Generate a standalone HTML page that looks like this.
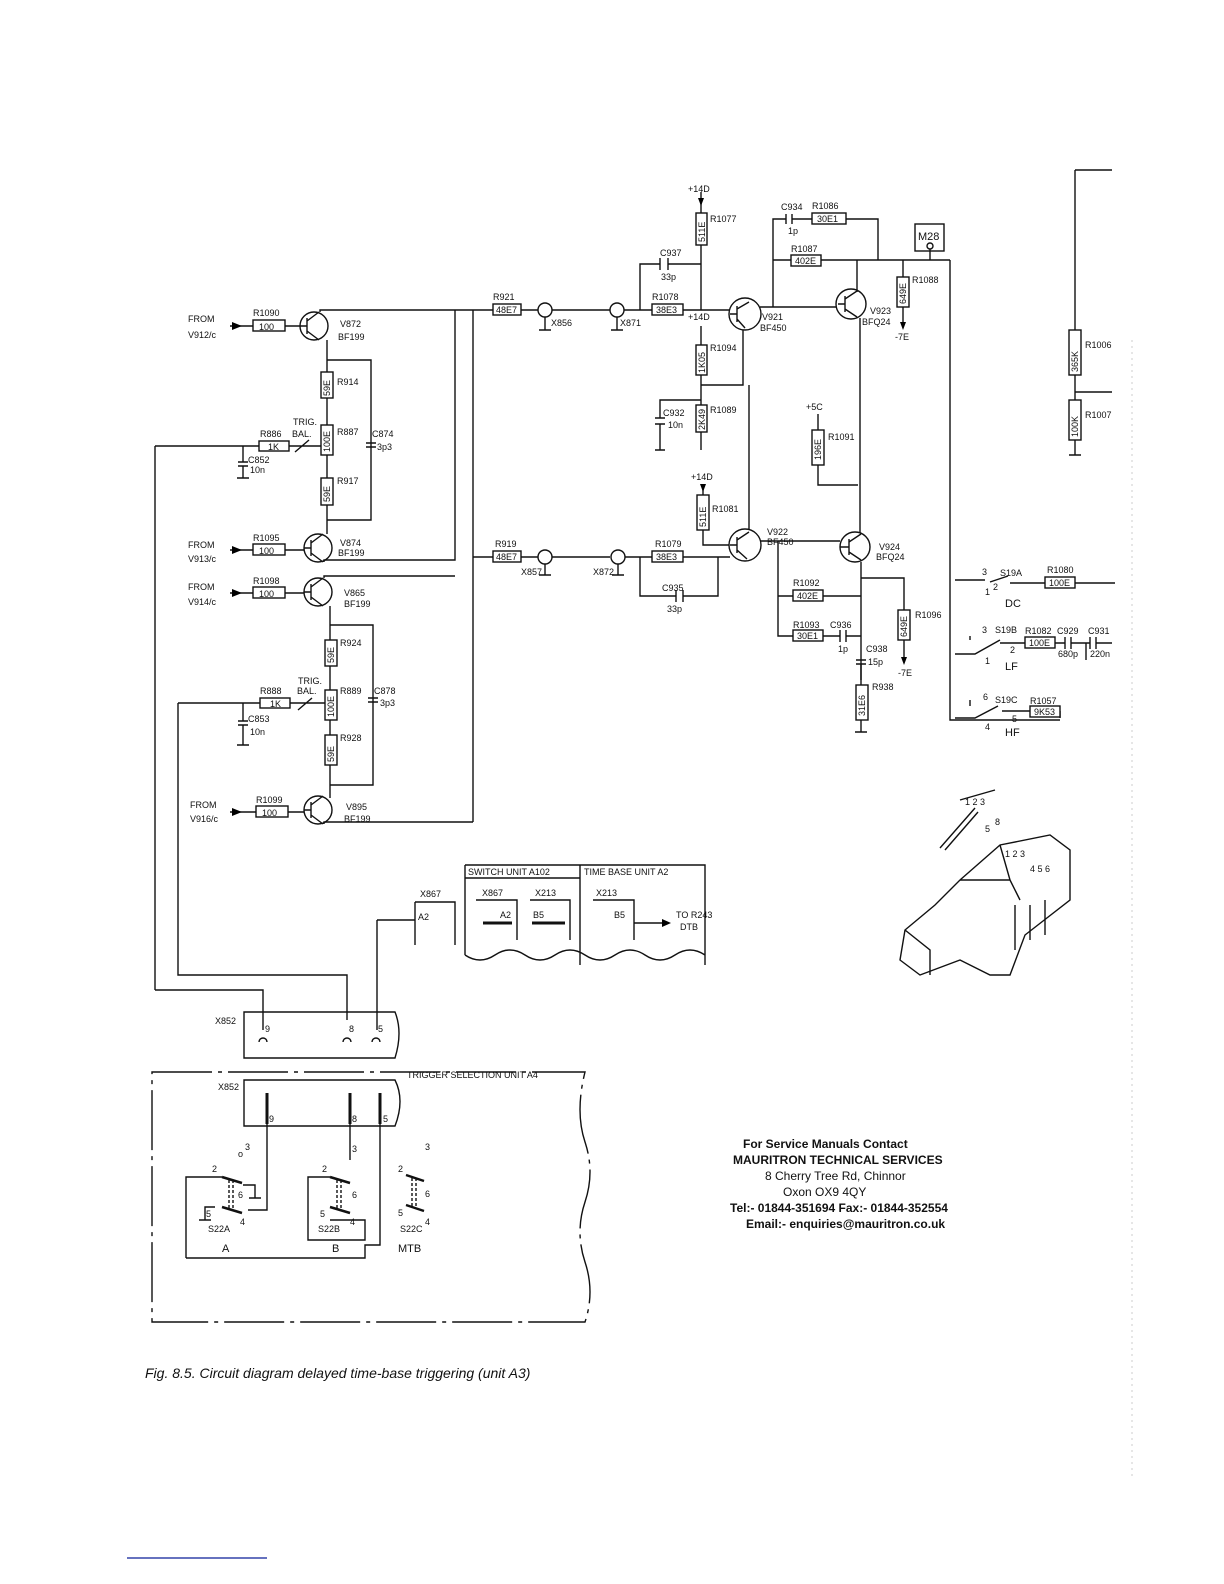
<!DOCTYPE html>
<html><head><meta charset="utf-8"><style>
html,body{margin:0;padding:0;background:#fff}
svg{display:block}
text{font-family:"Liberation Sans",sans-serif;font-size:10px;fill:#111}
.l{stroke:#111;stroke-width:1.4;fill:none}
.b{stroke:#111;stroke-width:1.4;fill:#fff}
.t{font-size:9px}
.s{font-size:11px}
</style></head><body>
<svg width="1224" height="1584" viewBox="0 0 1224 1584" xmlns="http://www.w3.org/2000/svg">
<!-- ===== top row ===== -->
<text x="188" y="322" class="t">FROM</text><text x="188" y="338" class="t">V912/c</text>
<path class="l" d="M230 326H253M285 326H298"/><path d="M232 322l10 4-10 4z"/>
<rect class="b" x="253" y="320" width="32" height="11"/><text x="259" y="330" class="t">100</text><text x="253" y="316" class="t">R1090</text>
<circle class="b" cx="314" cy="326" r="14"/><path class="l" d="M307 318v16M307 326h-9M307 321l12-9M307 331l12 9"/>
<text x="340" y="327" class="t">V872</text><text x="338" y="340" class="t">BF199</text>
<path class="l" d="M320 312V310H683M683 310H730M760 307H838M327 340V372M327 398V425M327 455V478M327 505V534M327 360H371V520H327"/>
<rect class="b" x="321" y="372" width="12" height="26"/><text x="337" y="385" class="t">R914</text><text x="330" y="396" class="t" transform="rotate(-90 330 396)">59E</text>
<rect class="b" x="321" y="425" width="12" height="30"/><text x="337" y="435" class="t">R887</text><text x="330" y="452" class="t" transform="rotate(-90 330 452)">100E</text>
<rect class="b" x="321" y="478" width="12" height="27"/><text x="337" y="484" class="t">R917</text><text x="330" y="502" class="t" transform="rotate(-90 330 502)">59E</text>
<path class="l" d="M366 443h10M366 447h10"/><text x="372" y="437" class="t">C874</text><text x="377" y="450" class="t">3p3</text>
<text x="293" y="425" class="t">TRIG.</text><text x="292" y="437" class="t">BAL.</text><text x="260" y="437" class="t">R886</text>
<rect class="b" x="259" y="441" width="30" height="10"/><text x="268" y="450" class="t">1K</text>
<path class="l" d="M289 446H321M295 452l14-12M155 446H259M155 446V990M243 446V462M238 462h10M238 466h10M243 466V478M237 478h12"/>
<text x="248" y="463" class="t">C852</text><text x="250" y="473" class="t">10n</text>
<!-- R921 X856 X871 -->
<rect class="b" x="493" y="304" width="28" height="11"/><text x="493" y="300" class="t">R921</text><text x="496" y="313" class="t">48E7</text>
<circle class="b" cx="545" cy="310" r="7"/><path class="l" d="M545 317V330M539 330h12"/><text x="551" y="326" class="t">X856</text>
<circle class="b" cx="617" cy="310" r="7"/><path class="l" d="M617 317V330M611 330h12"/><text x="620" y="326" class="t">X871</text>
<rect class="b" x="652" y="304" width="31" height="11"/><text x="652" y="300" class="t">R1078</text><text x="656" y="313" class="t">38E3</text>
<path class="l" d="M640 310V264H660M668 264H701M660 258v12M668 258v12M701 192V213M701 245V310"/><path d="M698 198l3 8 3-8z"/>
<text x="660" y="256" class="t">C937</text><text x="661" y="280" class="t">33p</text>
<text x="688" y="192" class="t">+14D</text>
<rect class="b" x="696" y="213" width="11" height="32"/><text x="710" y="222" class="t">R1077</text><text x="705" y="242" class="t" transform="rotate(-90 705 242)">511E</text>
<circle class="b" cx="745" cy="314" r="16"/><path class="l" d="M737 306v16M737 314h-7M737 309l12-7M737 319l8 9"/>
<text x="762" y="320" class="t">V921</text><text x="760" y="331" class="t">BF450</text>
<path class="l" d="M773 307V219H786M792 219H812M846 219H878V260M773 260H791M821 260H950M786 214v10M792 214v10"/>
<text x="781" y="210" class="t">C934</text><text x="812" y="209" class="t">R1086</text><text x="788" y="234" class="t">1p</text>
<rect class="b" x="812" y="213" width="34" height="11"/><text x="817" y="222" class="t">30E1</text>
<rect class="b" x="791" y="255" width="30" height="11"/><text x="791" y="252" class="t">R1087</text><text x="795" y="264" class="t">402E</text>
<rect class="b" x="915" y="224" width="29" height="27"/><text x="918" y="240" class="s">M28</text><circle class="b" cx="930" cy="246" r="3"/><path class="l" d="M930 249V260"/>
<circle class="b" cx="851" cy="304" r="15"/><path class="l" d="M845 296v16M845 304h-7M845 299l12-8M845 309l12 8M857 292V260M860 318V540"/>
<text x="870" y="314" class="t">V923</text><text x="862" y="325" class="t">BFQ24</text>
<path class="l" d="M903 260V277M903 307V325"/><path d="M900 322l3 8 3-8z"/>
<rect class="b" x="897" y="277" width="12" height="30"/><text x="912" y="283" class="t">R1088</text><text x="906" y="304" class="t" transform="rotate(-90 906 304)">649E</text><text x="895" y="340" class="t">-7E</text>
<!-- middle stack -->
<text x="688" y="320" class="t">+14D</text>
<path class="l" d="M701 326V345M701 375V405M701 432V450M743 330V385H701M701 400H660V418M660 424V450M655 418h10M655 424h10M655 450h10"/>
<rect class="b" x="696" y="345" width="11" height="30"/><text x="710" y="351" class="t">R1094</text><text x="705" y="373" class="t" transform="rotate(-90 705 373)">1K05</text>
<rect class="b" x="696" y="405" width="11" height="27"/><text x="710" y="413" class="t">R1089</text><text x="705" y="430" class="t" transform="rotate(-90 705 430)">2K49</text>
<text x="663" y="416" class="t">C932</text><text x="668" y="428" class="t">10n</text>
<text x="806" y="410" class="t">+5C</text><path class="l" d="M818 414V430M818 465V485H858"/>
<rect class="b" x="812" y="430" width="12" height="35"/><text x="828" y="440" class="t">R1091</text><text x="821" y="460" class="t" transform="rotate(-90 821 460)">196E</text>
<!-- lower row -->
<text x="188" y="548" class="t">FROM</text><text x="188" y="562" class="t">V913/c</text>
<path class="l" d="M230 550H253M285 550H304"/><path d="M232 546l10 4-10 4z"/>
<rect class="b" x="253" y="544" width="32" height="11"/><text x="259" y="554" class="t">100</text><text x="253" y="541" class="t">R1095</text>
<circle class="b" cx="318" cy="548" r="14"/><path class="l" d="M311 540v16M311 548h-7M311 543l12-9M311 553l12 9M324 562V560H455V310M473 310V822"/>
<text x="340" y="546" class="t">V874</text><text x="338" y="556" class="t">BF199</text>
<text x="188" y="590" class="t">FROM</text><text x="188" y="605" class="t">V914/c</text>
<path class="l" d="M230 593H253M285 593H304"/><path d="M232 589l10 4-10 4z"/>
<rect class="b" x="253" y="587" width="32" height="11"/><text x="259" y="597" class="t">100</text><text x="253" y="584" class="t">R1098</text>
<circle class="b" cx="318" cy="592" r="14"/><path class="l" d="M311 584v16M311 592h-7M311 587l12-9M311 597l12 9M324 578V576H455"/>
<text x="344" y="596" class="t">V865</text><text x="344" y="607" class="t">BF199</text>
<path class="l" d="M473 557H493M521 557H538M552 557H610M624 557H652M683 557H730M330 606V640M330 666V690M330 720V735M330 765V798M330 625H373V785H330"/>
<rect class="b" x="493" y="551" width="28" height="11"/><text x="495" y="547" class="t">R919</text><text x="496" y="560" class="t">48E7</text>
<circle class="b" cx="545" cy="557" r="7"/><path class="l" d="M545 564V575M539 575h12"/><text x="521" y="575" class="t">X857</text>
<circle class="b" cx="618" cy="557" r="7"/><path class="l" d="M618 564V575M612 575h12"/><text x="593" y="575" class="t">X872</text>
<rect class="b" x="652" y="551" width="31" height="11"/><text x="655" y="547" class="t">R1079</text><text x="656" y="560" class="t">38E3</text>
<path class="l" d="M640 557V596H676M683 596H718V557M676 590v12M683 590v12"/><text x="662" y="591" class="t">C935</text><text x="667" y="612" class="t">33p</text>
<text x="691" y="480" class="t">+14D</text><path class="l" d="M703 486V495M703 530V545H730"/><path d="M700 484l3 8 3-8z"/>
<rect class="b" x="697" y="495" width="12" height="35"/><text x="712" y="512" class="t">R1081</text><text x="706" y="527" class="t" transform="rotate(-90 706 527)">511E</text>
<circle class="b" cx="745" cy="545" r="16"/><path class="l" d="M737 537v16M737 545h-7M737 540l12-8M737 550l10 9M749 530V385"/>
<text x="767" y="535" class="t">V922</text><text x="767" y="545" class="t">BF450</text>
<circle class="b" cx="855" cy="547" r="15"/><path class="l" d="M849 539v16M849 547h-9M849 542l12-8M849 552l12 8M760 541H840M861 562V680"/>
<text x="879" y="550" class="t">V924</text><text x="876" y="560" class="t">BFQ24</text>
<path class="l" d="M778 541V636H793M778 596H793M823 596H861M823 636H840M846 636H861M840 630v12M846 630v12M861 578H904V610M904 640V660"/><path d="M901 657l3 8 3-8z"/>
<rect class="b" x="793" y="590" width="30" height="11"/><text x="793" y="586" class="t">R1092</text><text x="797" y="599" class="t">402E</text>
<rect class="b" x="793" y="630" width="30" height="11"/><text x="793" y="628" class="t">R1093</text><text x="830" y="628" class="t">C936</text><text x="797" y="639" class="t">30E1</text><text x="838" y="652" class="t">1p</text>
<rect class="b" x="898" y="610" width="12" height="30"/><text x="915" y="618" class="t">R1096</text><text x="907" y="637" class="t" transform="rotate(-90 907 637)">649E</text><text x="898" y="676" class="t">-7E</text>
<path class="l" d="M856 660h10M856 664h10M861 664V685M861 720V732M855 732h12"/><text x="866" y="652" class="t">C938</text><text x="868" y="665" class="t">15p</text>
<rect class="b" x="856" y="685" width="12" height="35"/><text x="872" y="690" class="t">R938</text><text x="865" y="716" class="t" transform="rotate(-90 865 716)">31E6</text>
<!-- second trig -->
<rect class="b" x="325" y="640" width="12" height="26"/><text x="340" y="646" class="t">R924</text><text x="334" y="663" class="t" transform="rotate(-90 334 663)">59E</text>
<rect class="b" x="325" y="690" width="12" height="30"/><text x="340" y="694" class="t">R889</text><text x="334" y="717" class="t" transform="rotate(-90 334 717)">100E</text>
<rect class="b" x="325" y="735" width="12" height="30"/><text x="340" y="741" class="t">R928</text><text x="334" y="762" class="t" transform="rotate(-90 334 762)">59E</text>
<path class="l" d="M368 698h10M368 702h10"/><text x="374" y="694" class="t">C878</text><text x="380" y="706" class="t">3p3</text>
<text x="298" y="684" class="t">TRIG.</text><text x="297" y="694" class="t">BAL.</text><text x="260" y="694" class="t">R888</text>
<rect class="b" x="260" y="698" width="30" height="10"/><text x="270" y="707" class="t">1K</text>
<path class="l" d="M290 703H325M298 710l14-12M178 703H260M178 703V975H347V1020M243 703V721M238 721h10M238 725h10M243 725V745M237 745h12"/>
<text x="248" y="722" class="t">C853</text><text x="250" y="735" class="t">10n</text>
<text x="190" y="808" class="t">FROM</text><text x="190" y="822" class="t">V916/c</text>
<path class="l" d="M230 812H256M288 812H304"/><path d="M232 808l10 4-10 4z"/>
<rect class="b" x="256" y="806" width="32" height="11"/><text x="262" y="816" class="t">100</text><text x="256" y="803" class="t">R1099</text>
<circle class="b" cx="318" cy="810" r="14"/><path class="l" d="M311 802v16M311 810h-7M311 805l12-9M311 815l12 9M324 824V822H473"/>
<text x="346" y="810" class="t">V895</text><text x="344" y="822" class="t">BF199</text>
<!-- switch unit boxes -->
<path class="l" d="M465 865H705V965M465 865V955M580 865V965M465 878H580M465 955q15 10 30 0t30 0 30 0 30 0 30 0 30 0 30 0 30 0"/>
<text x="468" y="875" class="t">SWITCH UNIT  A102</text><text x="584" y="875" class="t">TIME BASE UNIT A2</text>
<text x="482" y="896" class="t">X867</text><text x="535" y="896" class="t">X213</text><text x="596" y="896" class="t">X213</text>
<path class="l" d="M476 900H517V940M530 900H570V940M593 900H634V940"/>
<path stroke="#111" stroke-width="3" d="M483 923H512M532 923H565"/><text x="500" y="918" class="t">A2</text><text x="533" y="918" class="t">B5</text><text x="614" y="918" class="t">B5</text>
<path class="l" d="M634 923H668"/><path d="M662 919l9 4-9 4z"/><text x="676" y="918" class="t">TO R243</text><text x="680" y="930" class="t">DTB</text>
<text x="420" y="897" class="t">X867</text><path class="l" d="M415 902H455V945M415 902V945M377 920H415V920M377 920V1030"/><text x="418" y="920" class="t">A2</text>
<!-- X852 upper -->
<path class="l" d="M244 1012H395q8 20 0 46H244Z M155 990H263V1030"/>
<text x="215" y="1024" class="t">X852</text><text x="265" y="1032" class="t">9</text><text x="349" y="1032" class="t">8</text><text x="378" y="1032" class="t">5</text>
<path class="l" d="M259 1042a4 4 0 0 1 8 0M343 1042a4 4 0 0 1 8 0M372 1042a4 4 0 0 1 8 0"/>
<!-- trigger selection unit -->
<path class="l" d="M152 1072H585q-10 40 0 70t0 60 0 60 0 60H152Z" stroke-dasharray="60 6 4 6"/>
<text x="407" y="1078" class="t">TRIGGER  SELECTION UNIT A4</text>
<path class="l" d="M244 1080H395q10 20 0 46H244Z"/><text x="218" y="1090" class="t">X852</text>
<path stroke="#111" stroke-width="3" d="M267 1093V1124M350 1093V1124M380 1093V1124"/>
<text x="269" y="1122" class="t">9</text><text x="352" y="1122" class="t">8</text><text x="383" y="1122" class="t">5</text>
<path class="l" d="M267 1124V1210H248M350 1124V1160M186 1258V1177H222M308 1226V1177H330M380 1124V1245H365V1258H186M308 1213V1240H365V1220H330"/>
<path stroke="#111" stroke-width="2.5" d="M222 1177L242 1183M222 1207L242 1213M330 1177L350 1183M330 1207L350 1213M406 1175L424 1181M406 1205L424 1211"/>
<path class="l" stroke-dasharray="3 2" d="M229 1180V1209M233 1180V1209M337 1180V1209M341 1180V1209M412 1178V1207M416 1178V1207"/>
<path class="l" d="M243 1185H255V1198M249 1198h12M215 1207H205V1220M199 1220h12"/>
<text x="238" y="1157" class="t">o</text><text x="245" y="1150" class="t">3</text><text x="212" y="1172" class="t">2</text><text x="238" y="1198" class="t">6</text><text x="206" y="1217" class="t">5</text><text x="208" y="1232" class="t">S22A</text><text x="240" y="1225" class="t">4</text>
<text x="322" y="1172" class="t">2</text><text x="352" y="1152" class="t">3</text><text x="352" y="1198" class="t">6</text><text x="320" y="1217" class="t">5</text><text x="318" y="1232" class="t">S22B</text><text x="350" y="1225" class="t">4</text>
<text x="425" y="1150" class="t">3</text><text x="398" y="1172" class="t">2</text><text x="425" y="1197" class="t">6</text><text x="398" y="1216" class="t">5</text><text x="400" y="1232" class="t">S22C</text><text x="425" y="1225" class="t">4</text>
<text x="222" y="1252" class="s">A</text><text x="332" y="1252" class="s">B</text><text x="398" y="1252" class="s">MTB</text>
<!-- right side -->
<path class="l" d="M950 260V720H1060M1075 170H1112M1075 170V330M1075 375V400M1075 440V455M1069 455h12M1075 392H1112"/>
<rect class="b" x="1069" y="330" width="12" height="45"/><text x="1085" y="348" class="t">R1006</text><text x="1078" y="372" class="t" transform="rotate(-90 1078 372)">365K</text>
<rect class="b" x="1069" y="400" width="12" height="40"/><text x="1085" y="418" class="t">R1007</text><text x="1078" y="437" class="t" transform="rotate(-90 1078 437)">100K</text>
<text x="982" y="575" class="t">3</text><text x="1000" y="576" class="t">S19A</text><text x="1047" y="573" class="t">R1080</text>
<path class="l" d="M955 580H985M1010 583H1045M1075 583H1115M990 582L1008 576"/><rect class="b" x="1045" y="577" width="30" height="11"/><text x="1049" y="586" class="t">100E</text>
<text x="985" y="595" class="t">1</text><text x="993" y="590" class="t">2</text><text x="1005" y="607" class="s">DC</text>
<text x="982" y="633" class="t">3</text><text x="995" y="633" class="t">S19B</text><text x="1025" y="634" class="t">R1082</text><text x="1057" y="634" class="t">C929</text><text x="1088" y="634" class="t">C931</text>
<path class="l" d="M955 654H975L1000 640M1000 643H1025M1055 643H1065M1071 643H1090M1096 643H1112M1065 637v12M1071 637v12M1090 637v12M1096 637v12M1086 643V660M970 640V636"/>
<rect class="b" x="1025" y="637" width="30" height="11"/><text x="1029" y="646" class="t">100E</text><text x="985" y="664" class="t">1</text><text x="1010" y="653" class="t">2</text><text x="1005" y="670" class="s">LF</text>
<text x="1058" y="657" class="t">680p</text><text x="1090" y="657" class="t">220n</text>
<text x="983" y="700" class="t">6</text><text x="995" y="703" class="t">S19C</text><text x="1030" y="704" class="t">R1057</text>
<path class="l" d="M955 718H975L998 706M1002 711H1030M1060 711V718M970 700V706"/>
<rect class="b" x="1030" y="706" width="30" height="11"/><text x="1034" y="715" class="t">9K53</text>
<text x="985" y="730" class="t">4</text><text x="1012" y="722" class="t">5</text><text x="1005" y="736" class="s">HF</text>
<!-- switch drawing -->
<g class="l">
<path d="M940 848L975 808M945 850L978 812M960 800L995 790"/>
<path d="M905 930L935 905L960 880L1000 845L1050 835L1070 850L1070 900L1025 935L1010 975L990 975L960 960L920 975L900 960Z" fill="#fff"/>
<path d="M960 880L1010 880L1020 900M1000 845L1010 880M1015 905V950M1030 905V940M1045 900V935"/>
<path d="M905 930L930 950L930 975"/>
</g>
<text x="965" y="805" class="t">1 2 3</text><text x="995" y="825" class="t">8</text><text x="985" y="832" class="t">5</text>
<text x="1005" y="857" class="t">1 2 3</text><text x="1030" y="872" class="t">4 5 6</text>
<!-- contact -->
<text x="743" y="1148" style="font-size:12px;font-weight:bold">For Service Manuals Contact</text>
<text x="733" y="1164" style="font-size:12px;font-weight:bold">MAURITRON TECHNICAL SERVICES</text>
<text x="765" y="1180" style="font-size:12px">8 Cherry Tree Rd, Chinnor</text>
<text x="783" y="1196" style="font-size:12px">Oxon OX9 4QY</text>
<text x="730" y="1212" style="font-size:12px;font-weight:bold">Tel:- 01844-351694 Fax:- 01844-352554</text>
<text x="746" y="1228" style="font-size:12px;font-weight:bold">Email:- enquiries@mauritron.co.uk</text>
<text x="145" y="1378" style="font-size:14px;font-style:italic">Fig. 8.5. Circuit diagram delayed time-base triggering (unit A3)</text>
<path d="M127 1558H267" stroke="#3344aa" stroke-width="1.5"/>
<path d="M1132 340V1480" stroke="#ccc" stroke-width="1" stroke-dasharray="2 4"/>
</svg>
</body></html>
